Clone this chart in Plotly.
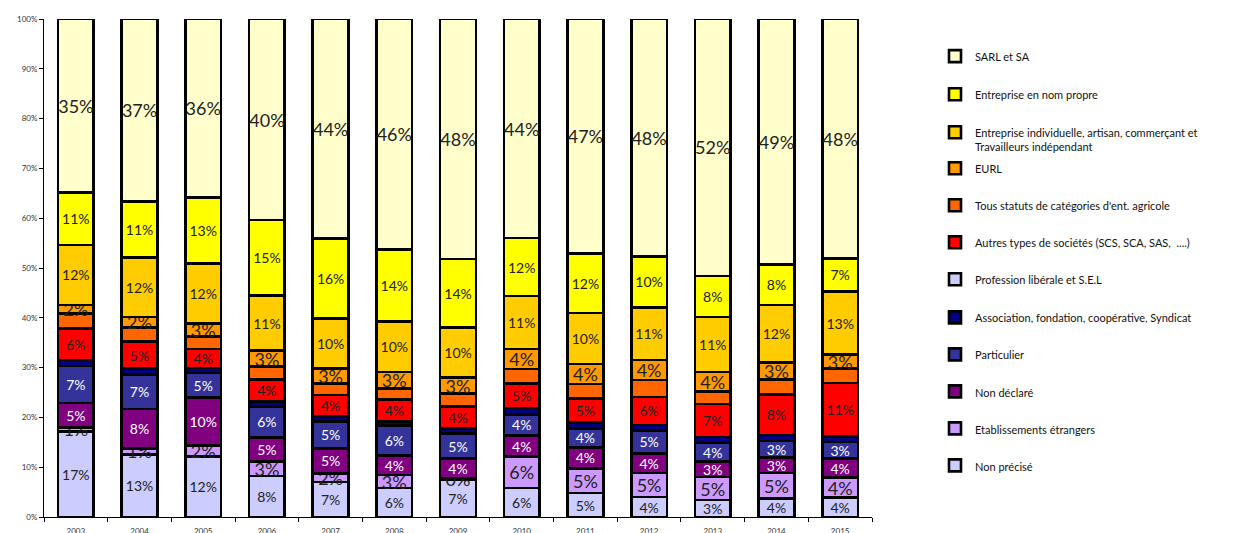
import plotly.graph_objects as go

# ---------------- data (percent of total, per year) ----------------
years = ["2003", "2004", "2005", "2006", "2007", "2008", "2009",
         "2010", "2011", "2012", "2013", "2014", "2015"]

non_precise   = [17.2, 12.6, 12.1, 8.2, 7.0, 5.8, 7.4, 5.8, 4.8, 4.0, 3.4, 3.7, 3.9]
etab_etr      = [0.8, 1.2, 2.3, 2.9, 1.7, 2.6, 0.4, 6.3, 4.9, 4.8, 4.6, 5.1, 4.0]
non_declare   = [4.9, 7.9, 9.6, 4.9, 5.1, 3.9, 3.9, 4.3, 4.3, 4.0, 3.2, 3.2, 3.8]
particulier   = [7.4, 6.9, 4.9, 6.2, 5.4, 6.1, 5.1, 4.2, 3.8, 4.6, 3.7, 3.3, 3.4]
association   = [1.2, 1.2, 1.0, 1.0, 1.0, 0.8, 1.0, 1.3, 1.2, 1.1, 1.2, 1.2, 1.1]
prof_liberale = [0, 0, 0, 0, 0, 0, 0, 0, 0, 0, 0, 0, 0]
autres_soc    = [6.4, 5.4, 3.8, 4.4, 4.3, 4.4, 4.4, 4.9, 4.8, 5.6, 6.6, 8.1, 10.7]
agricole      = [3.0, 2.9, 2.5, 2.6, 2.3, 2.2, 2.6, 2.9, 2.9, 3.4, 2.5, 3.0, 2.9]
eurl          = [1.7, 2.1, 2.6, 3.2, 3.0, 3.3, 3.2, 4.0, 4.0, 4.0, 3.9, 3.4, 2.8]
ent_indiv     = [12.0, 11.9, 12.1, 11.1, 10.1, 10.2, 10.1, 10.7, 10.3, 10.6, 11.1, 11.6, 12.7]
nom_propre    = [10.6, 11.2, 13.3, 15.1, 16.0, 14.4, 13.7, 11.6, 11.9, 10.2, 8.2, 8.1, 6.6]
sarl_sa       = [34.8, 36.7, 35.8, 40.4, 44.1, 46.3, 48.2, 44.0, 47.1, 47.7, 51.6, 49.3, 48.1]

y_tickvals = [0, 10, 20, 30, 40, 50, 60, 70, 80, 90, 100]
y_ticktext = ["0%", "10%", "20%", "30%", "40%", "50%", "60%", "70%", "80%", "90%", "100%"]

names = [
    "Non précisé",
    "Etablissements étrangers",
    "Non déclaré",
    "Particulier",
    "Association, fondation, coopérative, Syndicat",
    "Profession libérale et S.E.L",
    "Autres types de sociétés (SCS, SCA, SAS,  ....)",
    "Tous statuts de catégories d'ent. agricole",
    "EURL",
    "Entreprise individuelle, artisan, commerçant et<br>Travailleurs indépendant",
    "Entreprise en nom propre",
    "SARL et SA",
]
values = [non_precise, etab_etr, non_declare, particulier, association, prof_liberale,
          autres_soc, agricole, eurl, ent_indiv, nom_propre, sarl_sa]

# ---------------- styles ----------------
colors = ["#CCCCFF", "#CC99FF", "#800080", "#333399", "#000080", "#CCCCFF",
          "#FF0000", "#FF6600", "#FF9900", "#FFCC00", "#FFFF00", "#FFFFCC"]
show_label = [True, True, True, True, False, False, True, False, True, True, True, True]
label_size = [14, 18, 14, 14, 14, 14, 14, 14, 18, 14, 14, 18]
label_color = ["#222222", "#222222", "#FFFFFF", "#FFFFFF", "#222222", "#222222",
               "#222222", "#222222", "#222222", "#222222", "#222222", "#222222"]

FONT = "Lato, 'Open Sans', sans-serif"
PAGE_OFF = 8            # default body margin of the html page
W, H = 1237 - PAGE_OFF, 533 - PAGE_OFF
# plot area in page pixels
PL, PR, PT, PB = 44, 872, 19, 516.7
ML, MT = PL - PAGE_OFF, PT - PAGE_OFF
MR = W - (PR - PAGE_OFF)
MB = H - (PB - PAGE_OFF)
plot_h = H - MT - MB
plot_w = W - ML - MR

# legend item vertical centres in page pixels (top -> bottom order of legend)
legend_px = [57, 95, 139.5, 169, 206, 243, 280, 318, 355, 392, 429, 466]
legend_left_px = 935

fig = go.Figure()
n = len(names)
for i in range(n):
    leg_idx = n - i  # top trace -> legend 1
    leg_key = "legend" if leg_idx == 1 else f"legend{leg_idx}"
    fig.add_trace(go.Bar(
        x=years, y=values[i], name=names[i],
        marker=dict(color=colors[i], line=dict(color="#000000", width=2.6)),
        texttemplate="%{y:.0f}%" if show_label[i] else None,
        textposition="inside" if show_label[i] else "none",
        insidetextanchor="middle",
        constraintext="none",
        textangle=0,
        textfont=dict(family=FONT, size=label_size[i], color=label_color[i]),
        legend=leg_key,
        cliponaxis=False,
    ))

layout_legends = {}
for k in range(n):
    key = "legend" if k == 0 else f"legend{k + 1}"
    layout_legends[key] = dict(
        x=(legend_left_px - PAGE_OFF - ML) / plot_w,
        y=(H - MB - (legend_px[k] - PAGE_OFF)) / plot_h,
        xanchor="left", yanchor="middle",
        bgcolor="rgba(0,0,0,0)", borderwidth=0,
        font=dict(family=FONT, size=11, color="#111111"),
        valign="top",
    )

fig.update_layout(
    width=W, height=H,
    margin=dict(l=ML, r=MR, t=MT, b=MB, autoexpand=False),
    barmode="stack", bargap=0.44,
    plot_bgcolor="white", paper_bgcolor="white",
    font=dict(family=FONT, color="#333333"),
    showlegend=True,
    xaxis=dict(
        type="category", showline=True, linecolor="#000000", linewidth=1,
        ticks="outside", tickson="boundaries", ticklen=4, tickcolor="#000000",
        tickfont=dict(family=FONT, size=8, color="#333333"),
        ticklabelstandoff=6,
        showgrid=False, zeroline=False, automargin=False,
    ),
    yaxis=dict(
        range=[0, 100], tickmode="array", tickvals=y_tickvals, ticktext=y_ticktext,
        showline=True, linecolor="#000000", linewidth=1,
        ticks="outside", ticklen=4, tickcolor="#000000",
        tickfont=dict(family=FONT, size=8, color="#333333"),
        showgrid=False, zeroline=False, automargin=False,
    ),
    **layout_legends,
)

fig.write_html("out.html")
